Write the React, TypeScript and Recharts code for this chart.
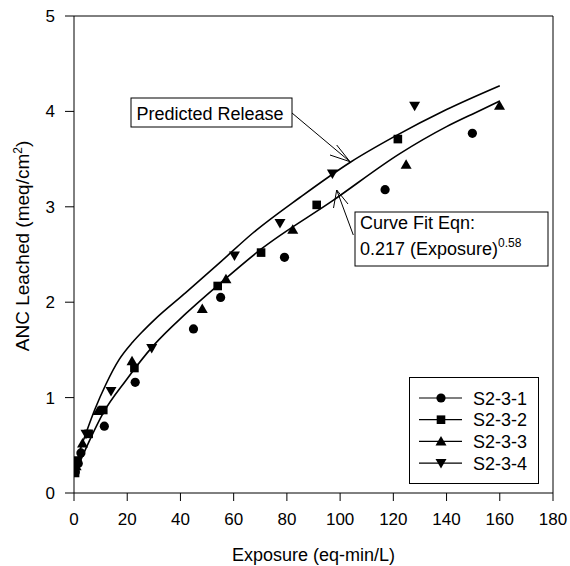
import { ComposedChart, Line, Scatter, XAxis, YAxis, ReferenceLine, Legend, Label } from 'recharts'

const xTicks = [0, 20, 40, 60, 80, 100, 120, 140, 160, 180]
const yTicks = [0, 1, 2, 3, 4, 5]

// curves
const predictedRelease = [
  [0.4, 0.24], [2.3, 0.45], [4.8, 0.65], [7.9, 0.88], [12, 1.14], [17, 1.4], [22, 1.58],
  [26, 1.7], [30, 1.81], [42, 2.1], [55, 2.42], [67, 2.72], [85, 3.1], [104, 3.47], [120, 3.73],
  [140, 4.02], [160, 4.27],
]
const curveFit = [
  [0.4, 0.2], [2.3, 0.33], [6, 0.56], [11, 0.84], [19.5, 1.18], [30, 1.55], [42, 1.88],
  [55, 2.2], [70, 2.55], [97.5, 3.07], [122.6, 3.56], [140, 3.84], [152.6, 4.01], [160, 4.11],
]

const s231 = [
  [0.5, 0.22], [1.6, 0.31], [2.6, 0.42], [11.4, 0.7], [23, 1.16], [44.9, 1.72],
  [55.1, 2.05], [79.1, 2.47], [116.9, 3.18], [149.7, 3.77],
]
const s232 = [
  [0.4, 0.21], [1.2, 0.34], [5.5, 0.62], [11, 0.87], [22.7, 1.31], [54, 2.17],
  [70.3, 2.52], [91.2, 3.02], [121.7, 3.71],
]
const s233 = [
  [0.8, 0.28], [3.2, 0.52], [9.1, 0.86], [21.8, 1.38], [48.2, 1.93], [57.1, 2.24],
  [82.2, 2.76], [124.8, 3.44], [159.9, 4.06],
]
const s234 = [
  [1.0, 0.3], [4.5, 0.62], [13.9, 1.07], [29.2, 1.52], [60.3, 2.49], [77.4, 2.83],
  [97.1, 3.35], [128, 4.06],
]

const seriesNames = ['S2-3-1', 'S2-3-2', 'S2-3-3', 'S2-3-4']

const toPts = (arr: number[][]) => arr.map(([x, y]) => ({ x, y }))

const FONT = '"Liberation Sans", Arial, sans-serif'

const Marker = ({ kind, cx, cy }: { kind: number; cx: number; cy: number }) => {
  if (kind === 0) return <circle cx={cx} cy={cy} r={4.6} fill="#000" />
  if (kind === 1) return <rect x={cx - 4.3} y={cy - 4.3} width={8.6} height={8.6} fill="#000" />
  if (kind === 2) return <path d={`M${cx},${cy - 5.5} L${cx + 5.5},${cy + 4} L${cx - 5.5},${cy + 4} Z`} fill="#000" />
  return <path d={`M${cx},${cy + 5.5} L${cx + 5.5},${cy - 4} L${cx - 5.5},${cy - 4} Z`} fill="#000" />
}

const shapeFor = (kind: number) => (p: any) => <Marker kind={kind} cx={p.cx} cy={p.cy} />

const LegendBox = () => (
  <svg width={130} height={107} style={{ display: 'block' }}>
    <rect x={0.5} y={0.5} width={129} height={106} fill="#fff" stroke="#000" />
    {seriesNames.map((n, i) => {
      const y = 21 + i * 21.7
      return (
        <g key={n}>
          <line x1={10} x2={53} y1={y} y2={y} stroke="#000" strokeWidth={1.2} />
          <Marker kind={i} cx={32} cy={y} />
          <text x={64} y={y + 6.5} fontSize={18} fontFamily={FONT} fill="#000">{n}</text>
        </g>
      )
    })}
  </svg>
)

const tickStyle = { fontSize: 17, fill: '#000', fontFamily: FONT }

export default function App() {
  return (
    <div style={{ padding: '8px 0 0 8px', width: 562, height: 558 }}>
      <style>{'body{margin:0;overflow:hidden}'}</style>
      <div style={{ position: 'relative', width: 562, height: 558, fontFamily: FONT }}>
        <ComposedChart width={562} height={558} margin={{ top: 8, right: 17, left: 10, bottom: 3 }} style={{ overflow: 'visible' }}>
          <XAxis
            type="number"
            dataKey="x"
            domain={[0, 180]}
            ticks={xTicks}
            interval={0}
            tick={tickStyle}
            tickSize={8}
            tickMargin={12}
            height={70}
            stroke="#000"
            allowDataOverflow
          >
            <Label
              content={() => (
                <text x={305.5} y={553} textAnchor="middle" fontSize={18} fontFamily={FONT} fill="#000">
                  Exposure (eq-min/L)
                </text>
              )}
            />
          </XAxis>
          <YAxis
            type="number"
            dataKey="y"
            domain={[0, 5]}
            ticks={yTicks}
            interval={0}
            tick={tickStyle}
            tickSize={9}
            tickMargin={10}
            width={56}
            stroke="#000"
            allowDataOverflow
          >
            <Label
              content={() => (
                <text
                  x={21}
                  y={238}
                  transform="rotate(-90, 21, 238)"
                  textAnchor="middle"
                  fontSize={19}
                  fontFamily={FONT}
                  fill="#000"
                >
                  ANC Leached (meq/cm<tspan dy={-7} fontSize={12}>2</tspan><tspan dy={7}>)</tspan>
                </text>
              )}
            />
          </YAxis>
          <ReferenceLine y={5} stroke="#000" />
          <ReferenceLine x={180} stroke="#000" />
          <Line data={toPts(predictedRelease)} dataKey="y" type="monotone" stroke="#000" strokeWidth={1.6} dot={false} isAnimationActive={false} legendType="none" />
          <Line data={toPts(curveFit)} dataKey="y" type="monotone" stroke="#000" strokeWidth={1.6} dot={false} isAnimationActive={false} legendType="none" />
          <Scatter name={seriesNames[0]} data={toPts(s231)} dataKey="y" shape={shapeFor(0)} isAnimationActive={false} />
          <Scatter name={seriesNames[1]} data={toPts(s232)} dataKey="y" shape={shapeFor(1)} isAnimationActive={false} />
          <Scatter name={seriesNames[2]} data={toPts(s233)} dataKey="y" shape={shapeFor(2)} isAnimationActive={false} />
          <Scatter name={seriesNames[3]} data={toPts(s234)} dataKey="y" shape={shapeFor(3)} isAnimationActive={false} />
          <Legend
            layout="vertical"
            align="center"
            verticalAlign="middle"
            content={() => <LegendBox />}
            wrapperStyle={{ left: 401, top: 369, width: 130, height: 107 }}
          />
        </ComposedChart>
        <svg
          width={562}
          height={558}
          style={{ position: 'absolute', left: 0, top: 0, pointerEvents: 'none' }}
        >
          <g fontFamily={FONT} fontSize={18} fill="#000">
            <rect x={123} y={90} width={161} height={29} fill="#fff" stroke="#000" />
            <text x={128.5} y={111.5}>Predicted Release</text>
            <rect x={347} y={204} width={193} height={54} fill="#fff" stroke="#000" />
            <text x={352} y={221}>Curve Fit Eqn:</text>
            <text x={352} y={246.5}>
              0.217 (Exposure)<tspan dy={-8} fontSize={12}>0.58</tspan>
            </text>
          </g>
          <g stroke="#000" strokeWidth={1} fill="none">
            <line x1={284} y1={105} x2={342} y2={153.7} />
            <line x1={342} y1={153.7} x2={328.7} y2={137} />
            <line x1={342} y1={153.7} x2={322} y2={147} />
            <line x1={345.3} y1={227} x2={328.7} y2={182} />
            <line x1={328.7} y1={182} x2={325.5} y2={200} />
            <line x1={328.7} y1={182} x2={340} y2={196} />
          </g>
        </svg>
      </div>
    </div>
  )
}
